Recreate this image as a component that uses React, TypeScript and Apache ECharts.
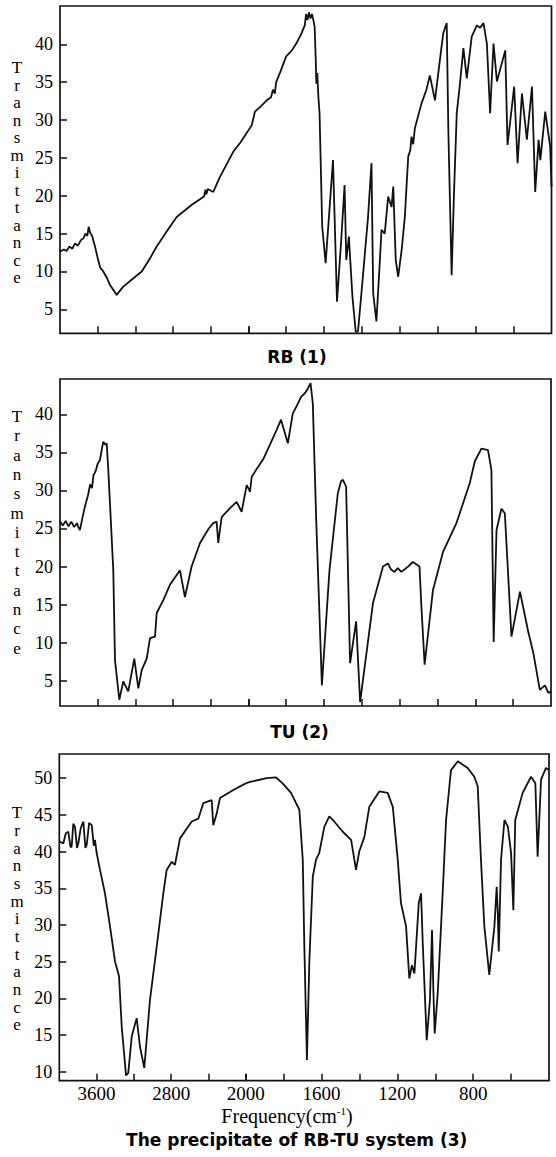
import React, { useEffect, useRef } from "react";
import * as echarts from "echarts";

// ---------- data ----------
const freqRB = [4000,3960,3930,3900,3870,3840,3810,3780,3750,3730,3710,3695,3680,3660,3628,3600,3575,3560,3540,3500,3469,3430,3398,3360,3328,3230,3132,3050,2973,2860,2761,2600,2470,2455,2445,2430,2372,2301,2160,2080,2000,1982,1965,1930,1903,1880,1870,1860,1853,1832,1800,1770,1747,1720,1702,1695,1688,1680,1672,1664,1655,1650,1644,1641,1636,1630,1624,1610,1592,1575,1553,1532,1510,1492,1483,1469,1462,1450,1433,1421,1400,1368,1350,1341,1324,1310,1297,1280,1262,1244,1235,1222,1209,1190,1174,1156,1145,1139,1130,1121,1086,1060,1042,1015,989,971,953,944,927,915,900,883,865,847,821,794,776,759,741,724,706,688,644,632,597,579,556,530,503,486,468,459,433,407,400];
const transRB = [12.6,12.9,12.7,13.3,13.0,13.7,13.4,14.1,14.4,15.0,14.7,15.9,15.1,14.7,13.3,11.8,10.6,10.3,10.0,9.1,8.2,7.5,6.9,7.5,8.0,9.0,10.0,11.6,13.3,15.4,17.2,18.8,19.9,20.8,20.2,20.9,20.5,22.5,25.8,27.1,28.6,29.3,31.1,31.9,32.6,33.0,34.0,33.5,35.0,36.3,38.4,39.2,40.1,41.4,42.5,44.0,43.2,44.2,43.4,44.0,43.0,42.3,38.0,34.8,36.2,33.0,30.9,15.9,11.1,17.0,24.7,6.0,14.0,21.4,11.5,14.6,11.5,6.5,2.0,2.1,8.0,17.2,24.3,7.1,3.4,9.5,15.5,15.0,19.9,18.5,21.2,11.5,9.3,13.0,17.2,25.2,26.0,27.8,26.8,28.9,32.2,34.0,35.9,32.6,37.9,41.5,42.8,28.2,9.5,20.0,30.9,34.8,39.5,35.5,41.0,42.5,42.2,42.8,40.1,30.9,40.1,35.1,39.2,26.7,34.4,24.3,33.5,27.4,34.4,20.5,27.4,24.7,31.1,26.5,21.2];

const freqTU = [4000,3970,3940,3910,3880,3850,3820,3806,3788,3760,3735,3700,3680,3660,3646,3620,3600,3575,3555,3540,3520,3504,3487,3434,3416,3370,3328,3275,3211,3168,3132,3079,3044,2991,2973,2903,2832,2726,2673,2602,2513,2420,2372,2336,2319,2283,2200,2124,2071,2017,2000,1991,1982,1919,1853,1827,1791,1765,1740,1721,1700,1685,1671,1659,1641,1611,1571,1527,1510,1500,1483,1462,1430,1409,1341,1288,1262,1245,1227,1210,1191,1160,1130,1095,1086,1068,1024,971,900,830,803,768,750,733,715,703,688,662,644,609,564,520,493,459,432,414,400];
const transTU = [25.9,25.4,26.0,25.3,25.9,25.2,25.7,25.2,24.8,26.5,27.9,29.5,30.8,30.3,31.9,32.6,33.5,34.0,35.5,36.4,36.0,36.2,32.7,19.5,7.7,2.5,4.9,3.6,7.9,4.0,6.4,7.9,10.6,10.8,13.9,15.6,17.6,19.5,16.0,20.0,23.1,25.0,25.7,25.9,23.1,26.5,27.6,28.5,27.2,30.7,30.3,29.8,31.8,34.2,37.8,39.3,36.2,40.1,41.3,42.3,42.8,43.4,44.1,41.4,26.1,4.4,19.5,29.6,31.2,31.4,30.5,7.3,12.8,2.2,15.2,20.0,20.4,19.6,19.3,19.8,19.3,19.9,20.6,20.0,15.2,7.1,16.9,21.9,25.7,30.9,33.8,35.5,35.4,35.3,32.7,10.1,24.8,27.6,27.0,10.8,16.7,11.4,8.6,3.8,4.4,3.4,3.6];

const freqPR = [4000,3957,3930,3903,3880,3867,3850,3832,3810,3796,3770,3742,3720,3706,3680,3652,3630,3617,3599,3563,3510,3456,3402,3359,3330,3284,3260,3223,3170,3134,3088,3027,2955,2884,2848,2794,2759,2705,2579,2508,2455,2365,2348,2311,2276,2133,2000,1977,1889,1840,1805,1761,1717,1699,1691,1677,1664,1646,1629,1612,1585,1559,1533,1488,1444,1418,1401,1374,1348,1295,1251,1224,1198,1181,1154,1137,1123,1110,1087,1075,1066,1045,1028,1017,1010,1003,987,961,943,917,881,829,794,776,759,741,715,688,676,670,665,653,635,617,600,588,578,539,495,472,460,442,416,400];
const transPR = [41.4,41.1,42.5,42.7,40.6,40.7,43.8,43.4,40.5,41.1,43.2,44.1,40.5,40.9,43.9,43.6,40.8,41.6,39.8,37.5,34.3,29.8,25.0,23.0,16.1,9.5,9.8,14.8,17.3,13.4,10.5,19.8,27.0,34.3,37.5,38.6,38.2,41.8,44.1,44.5,46.6,47.0,43.6,45.2,47.3,48.4,49.3,49.5,50.0,50.1,49.3,48.0,45.7,38.9,27.5,11.6,25.2,36.6,38.9,39.8,43.4,44.8,44.1,42.7,41.6,37.5,40.0,42.0,46.1,48.2,48.0,46.1,38.9,33.0,29.8,22.7,24.5,23.4,33.0,34.3,27.5,14.3,19.8,29.3,21.1,15.2,20.7,34.3,44.3,51.1,52.3,51.4,50.2,48.9,38.9,29.8,23.2,29.8,35.2,31.6,26.4,38.9,44.3,43.4,39.8,32.0,44.3,48.0,50.2,49.3,39.3,49.8,51.4,51.1];

const yTicks40 = [5, 10, 15, 20, 25, 30, 35, 40];
const yTicks50 = [10, 15, 20, 25, 30, 35, 40, 45, 50];
const xTicksHigh = [3600, 3200, 2800, 2400, 2000];
const xTicksLow = [2000, 1800, 1600, 1400, 1200, 1000, 800, 600];
const xLabelsHigh = [3600, 2800, 2000];
const xLabelsLow = [1600, 1200, 800];
const panelTitles = ["RB (1)", "TU (2)", "The precipitate of RB-TU system (3)"];
const yName = "Transmittance";
const breakFreq = 2000;

// ---------- layout ----------
const panels = [
  { freq: freqRB, trans: transRB, yTicks: yTicks40, left: 60, mid: 248.3, right: 551.5, top: 6, bottom: 333.3, ymin: 1.83, ymax: 45.06, labels: false,
    nameY: 172.5, nameLH: 17.5, title: panelTitles[0], titleX: 297, titleY: 356.5 },
  { freq: freqTU, trans: transTU, yTicks: yTicks40, left: 60, mid: 248.3, right: 551, top: 379, bottom: 706, ymin: 1.68, ymax: 44.64, labels: false,
    nameY: 532.3, nameLH: 19.3, title: panelTitles[1], titleX: 299.5, titleY: 731.5 },
  { freq: freqPR, trans: transPR, yTicks: yTicks50, left: 59.3, mid: 245.7, right: 549, top: 754, bottom: 1080.7, ymin: 8.77, ymax: 53.3, labels: true,
    nameY: 918.8, nameLH: 17.7, title: panelTitles[2], titleX: 296.7, titleY: 1140 },
];

const INK = "#111";
const SERIF = "'Liberation Serif', 'Times New Roman', 'DejaVu Serif', serif";
const SANS = "'DejaVu Sans', 'Liberation Sans', Arial, sans-serif";

function buildOption() {
  const grid: any[] = [];
  const xAxis: any[] = [];
  const yAxis: any[] = [];
  const series: any[] = [];
  const graphic: any[] = [];

  panels.forEach((p, i) => {
    const h = p.bottom - p.top;
    const base = i * 3;
    grid.push({ left: p.left, top: p.top, width: p.right - p.left, height: h, show: true,
      borderColor: INK, borderWidth: 1.7, backgroundColor: "transparent", containLabel: false, outerBoundsMode: "none" });
    grid.push({ left: p.left, top: p.top, width: p.mid - p.left, height: h, containLabel: false, outerBoundsMode: "none" });
    grid.push({ left: p.mid, top: p.top, width: p.right - p.mid, height: h, containLabel: false, outerBoundsMode: "none" });

    xAxis.push({ gridIndex: base, type: "value", min: 0, max: 1, show: false });
    yAxis.push({ gridIndex: base, type: "value", min: 0, max: 1, show: false });

    const tickStyle = { show: true, inside: true, length: 7, lineStyle: { color: INK, width: 1.5 } };
    const xLabelStyle = { color: "#000", fontFamily: SERIF, fontSize: 19, margin: 3,
      formatter: (v: number) => String(v) };

    xAxis.push({ gridIndex: base + 1, type: "value", min: breakFreq, max: 4000, inverse: true,
      axisLine: { show: false }, splitLine: { show: false },
      axisTick: { ...tickStyle, customValues: xTicksHigh },
      axisLabel: p.labels ? { show: true, customValues: xLabelsHigh, ...xLabelStyle } : { show: false } });
    xAxis.push({ gridIndex: base + 2, type: "value", min: 400, max: breakFreq, inverse: true,
      axisLine: { show: false }, splitLine: { show: false },
      axisTick: { ...tickStyle, customValues: xTicksLow },
      axisLabel: p.labels ? { show: true, customValues: xLabelsLow, ...xLabelStyle } : { show: false } });

    yAxis.push({ gridIndex: base + 1, type: "value", min: p.ymin, max: p.ymax,
      axisLine: { show: false }, splitLine: { show: false },
      axisTick: { ...tickStyle, customValues: p.yTicks },
      axisLabel: { show: true, customValues: p.yTicks, color: "#000", fontFamily: SERIF, fontSize: 18, margin: 7,
        formatter: (v: number) => String(v) } });
    yAxis.push({ gridIndex: base + 2, type: "value", min: p.ymin, max: p.ymax, show: false });

    const pts = p.freq.map((f, k) => [f, p.trans[k]]);
    const lineStyle = { color: INK, width: 1.8 };
    series.push({ type: "line", xAxisIndex: base + 1, yAxisIndex: base + 1, symbol: "none", clip: true, silent: true,
      lineStyle, data: pts.filter((d) => d[0] >= breakFreq) });
    series.push({ type: "line", xAxisIndex: base + 2, yAxisIndex: base + 2, symbol: "none", clip: true, silent: true,
      lineStyle, data: pts.filter((d) => d[0] <= breakFreq) });

    graphic.push({ type: "text", x: 17, y: p.nameY, silent: true,
      style: { text: yName.split("").join("\n"), fill: "#000", font: `17px ${SERIF}`, lineHeight: p.nameLH,
        align: "center", verticalAlign: "middle" } });
    graphic.push({ type: "text", x: p.titleX, y: p.titleY, silent: true,
      style: { text: p.title, fill: "#000", font: `bold 17px ${SANS}`, align: "center", verticalAlign: "middle" } });
  });

  graphic.push({ type: "text", x: 287, y: 1116, silent: true,
    style: { text: "{a|Frequency(cm}{s|-1}{a|)}", fill: "#000", align: "center", verticalAlign: "middle",
      rich: { a: { fontFamily: SERIF, fontSize: 20, lineHeight: 22 }, s: { fontFamily: SERIF, fontSize: 11, verticalAlign: "top" } } } });

  return { animation: false, backgroundColor: "#fff", grid, xAxis, yAxis, series, graphic };
}

export default function App() {
  const ref = useRef<HTMLDivElement>(null);
  useEffect(() => {
    if (!ref.current) return;
    const chart = echarts.init(ref.current, undefined, { renderer: "svg" });
    chart.setOption(buildOption() as any);
    return () => chart.dispose();
  }, []);
  return <div ref={ref} style={{ position: "absolute", left: 0, top: 0, width: 556, height: 1157 }} />;
}
